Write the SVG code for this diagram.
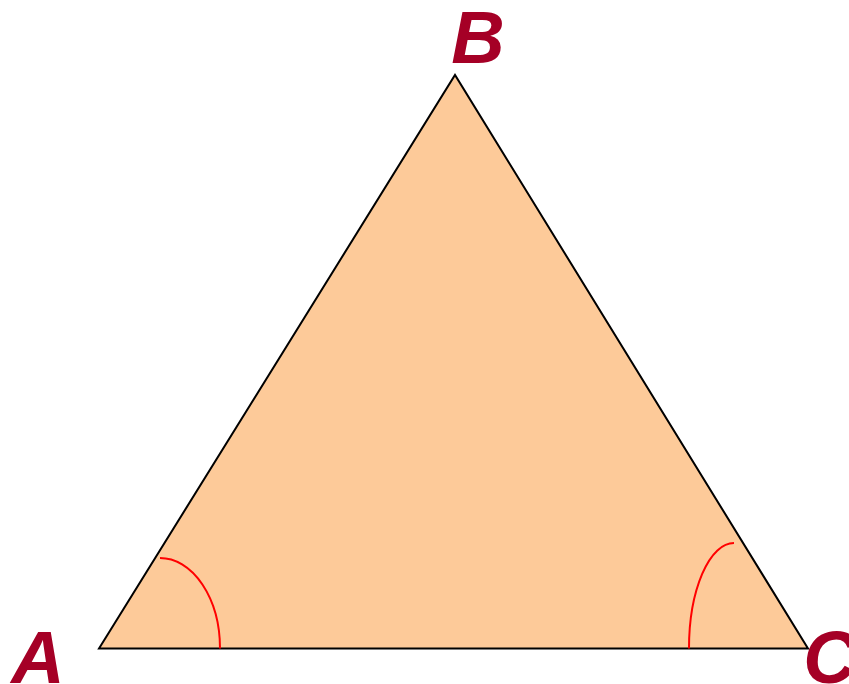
<svg xmlns="http://www.w3.org/2000/svg" width="849" height="684" viewBox="0 0 849 684">
<style>
.lbl{font-family:"Liberation Sans",Arial,sans-serif;font-weight:bold;font-style:italic;font-size:74px;fill:#A50026;text-anchor:middle}
.arc{fill:none;stroke:#FF0000;stroke-width:2}
</style>
<rect width="849" height="684" fill="#FFFFFF"/>
<g id="triangle">
<polygon points="99,648.5 455,75 808,648.5" fill="#FDCA99" stroke="#000000" stroke-width="2" stroke-linejoin="miter"/>
</g>
<g id="angles">
<path class="arc" d="M160,558 A60,90.5 0 0 1 220,648.5"/>
<path class="arc" d="M734,543 A45,105.5 0 0 0 689,648.5"/>
</g>
<g id="labels">
<text class="lbl" x="38" y="683">A</text>
<text class="lbl" x="478" y="63">B</text>
<text class="lbl" x="830" y="683">C</text>
</g>
</svg>
